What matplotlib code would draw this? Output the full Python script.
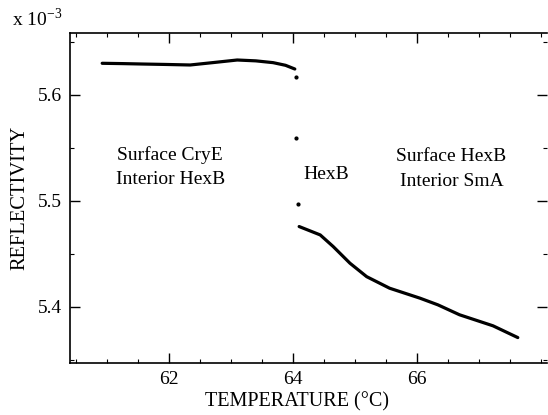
import matplotlib
matplotlib.use("Agg")
import matplotlib.pyplot as plt
from matplotlib.ticker import MultipleLocator

plt.rcParams['font.family'] = ['Liberation Serif', 'DejaVu Serif']

# Data (reflectivity in units of 1e-3)
upper_T = [60.92, 61.25, 61.58, 61.95, 62.34, 62.70, 63.10, 63.40, 63.68, 63.88, 64.03]
upper_R = [5.6299, 5.6296, 5.6292, 5.6288, 5.6283, 5.6305, 5.6330, 5.6322, 5.6305, 5.6280, 5.6245]

dots_T = [64.05, 64.05, 64.08]
dots_R = [5.6173, 5.5590, 5.4970]

lower_T = [64.10, 64.44, 64.65, 64.92, 65.19, 65.56, 66.05, 66.34, 66.69, 67.23, 67.63]
lower_R = [5.4758, 5.4679, 5.4569, 5.4412, 5.4285, 5.4176, 5.4082, 5.4019, 5.3925, 5.3821, 5.3710]

xticks = [62, 64, 66]
yticks = [5.4, 5.5, 5.6]

fig = plt.figure(figsize=(5.48, 4.15), dpi=100)
ax = fig.add_axes([0.1277, 0.1253, 0.8703, 0.7952])

ax.plot(upper_T, upper_R, color='black', lw=2.3, solid_capstyle='round')
ax.plot(lower_T, lower_R, color='black', lw=2.3, solid_capstyle='round')
ax.plot(dots_T, dots_R, 'o', color='black', ms=2)

ax.set_xlim(60.40, 68.10)
ax.set_ylim(5.347, 5.6585)
ax.set_xticks(xticks)
ax.set_yticks(yticks)
ax.set_yticklabels(['5.4', '5.5', '5.6'])
ax.xaxis.set_minor_locator(MultipleLocator(0.5))
ax.yaxis.set_minor_locator(MultipleLocator(0.05))
ax.tick_params(which='major', direction='in', length=7, width=1, labelsize=14,
               top=True, right=True, pad=6)
ax.tick_params(which='minor', direction='in', length=3, width=0.8, top=True, right=True)
ax.spines['right'].set_visible(False)
for s in ['left', 'bottom', 'top']:
    ax.spines[s].set_linewidth(1.2)

ax.set_xlabel('TEMPERATURE (°C)', fontsize=14.5, labelpad=4)
ax.xaxis.set_label_coords(0.476, -0.088)
ax.set_ylabel('REFLECTIVITY', fontsize=14.8, labelpad=6)

fig.text(0.022, 0.955, r'x 10$^{\mathregular{-3}}$', fontsize=14,
         ha='left', va='center')

ax.text(62.02, 5.5434, 'Surface CryE', fontsize=14, ha='center', va='center')
ax.text(62.02, 5.5198, 'Interior HexB', fontsize=14, ha='center', va='center')
ax.text(64.53, 5.5245, 'HexB', fontsize=14, ha='center', va='center')
ax.text(66.56, 5.5415, 'Surface HexB', fontsize=14, ha='center', va='center')
ax.text(66.56, 5.5180, 'Interior SmA', fontsize=14, ha='center', va='center')

fig.savefig('out.png', dpi=100)
